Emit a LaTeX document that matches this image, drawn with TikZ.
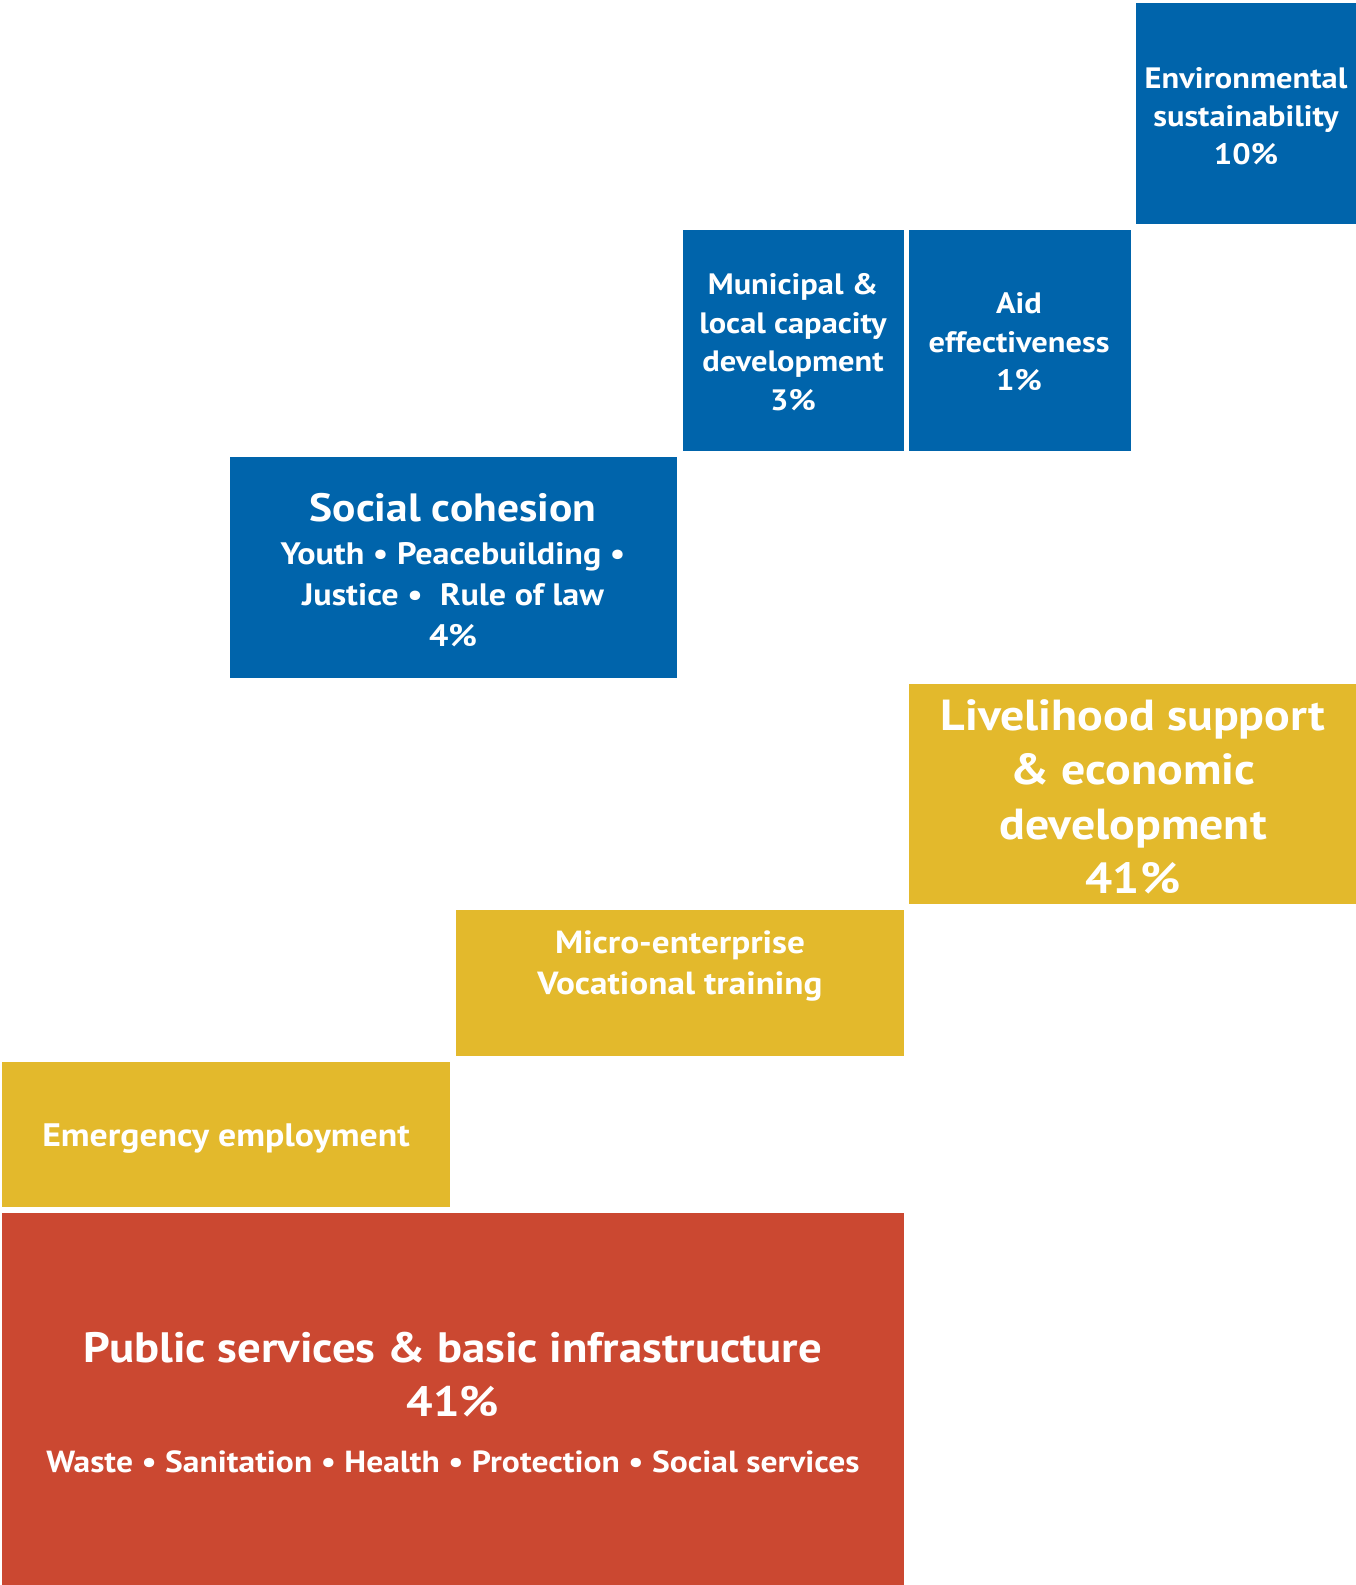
\documentclass[tikz,border=0pt]{standalone}
\usepackage{fontspec}
\setmainfont{PT Sans}[FakeStretch=1.1]
\definecolor{ublue}{HTML}{0064AB}
\definecolor{uyellow}{HTML}{E3B92C}
\definecolor{ured}{HTML}{CB4831}
\tikzset{
  box/.style={anchor=north west, inner sep=0pt, outer sep=0pt, draw=none},
  lbl/.style={text=white, align=center, inner sep=0pt, font=\bfseries},
}
\newcommand{\fs}[2]{\fontsize{#1}{#2}\selectfont}
\begin{document}
\begin{tikzpicture}[x=1pt,y=-1pt]
\useasboundingbox[fill=white] (0,0) rectangle (1356,1585);
% boxes
\node[box, fill=ublue, minimum width=220pt, minimum height=221pt] (env) at (1136,3) {};
\node[box, fill=ublue, minimum width=221pt, minimum height=221pt] (muni) at (683,230) {};
\node[box, fill=ublue, minimum width=222pt, minimum height=221pt] (aid) at (909,230) {};
\node[box, fill=ublue, minimum width=447pt, minimum height=221pt] (soc) at (230,457) {};
\node[box, fill=uyellow, minimum width=447pt, minimum height=220pt] (liv) at (909,684) {};
\node[box, fill=uyellow, minimum width=448pt, minimum height=146pt] (micro) at (456,910) {};
\node[box, fill=uyellow, minimum width=448pt, minimum height=145pt] (emer) at (2,1062) {};
\node[box, fill=ured, minimum width=902pt, minimum height=372pt] (pub) at (2,1213) {};
% labels
\node[lbl, font=\bfseries\fs{29.5}{38}] (envt) at (1246,116) {Environmental\\sustainability\\10\%};
\node[lbl, font=\bfseries\fs{29.5}{38.5}] (munit) at (793,342) {Municipal \&\\local capacity\\development\\3\%};
\node[lbl, font=\bfseries\fs{29.5}{38.5}] (aidt) at (1019,342) {Aid\\effectiveness\\1\%};
\node[lbl, font=\bfseries\fs{31}{41}] (soct) at (453,570) {{\fs{39.5}{41}Social cohesion}\\[2pt]Youth • Peacebuilding •\\Justice •\ \ Rule of law\\4\%};
\node[lbl, font=\bfseries\fs{43.5}{54.5}] (livt) at (1133,797) {Livelihood support\\\& economic\\development\\41\%};
\node[lbl, font=\bfseries\fs{32}{41}] (microt) at (680,966.5) {Micro-enterprise\\Vocational training};
\node[lbl, font=\bfseries\fs{32.5}{41}] (emert) at (226,1139) {Emergency employment};
\node[lbl, font=\bfseries\fs{30.5}{54}] (pubt) at (453,1403) {{\fs{42.5}{54}Public services \& basic infrastructure}\\{\fs{42.5}{54}41\%}\\[2pt]Waste • Sanitation • Health • Protection • Social services};
\end{tikzpicture}
\end{document}
